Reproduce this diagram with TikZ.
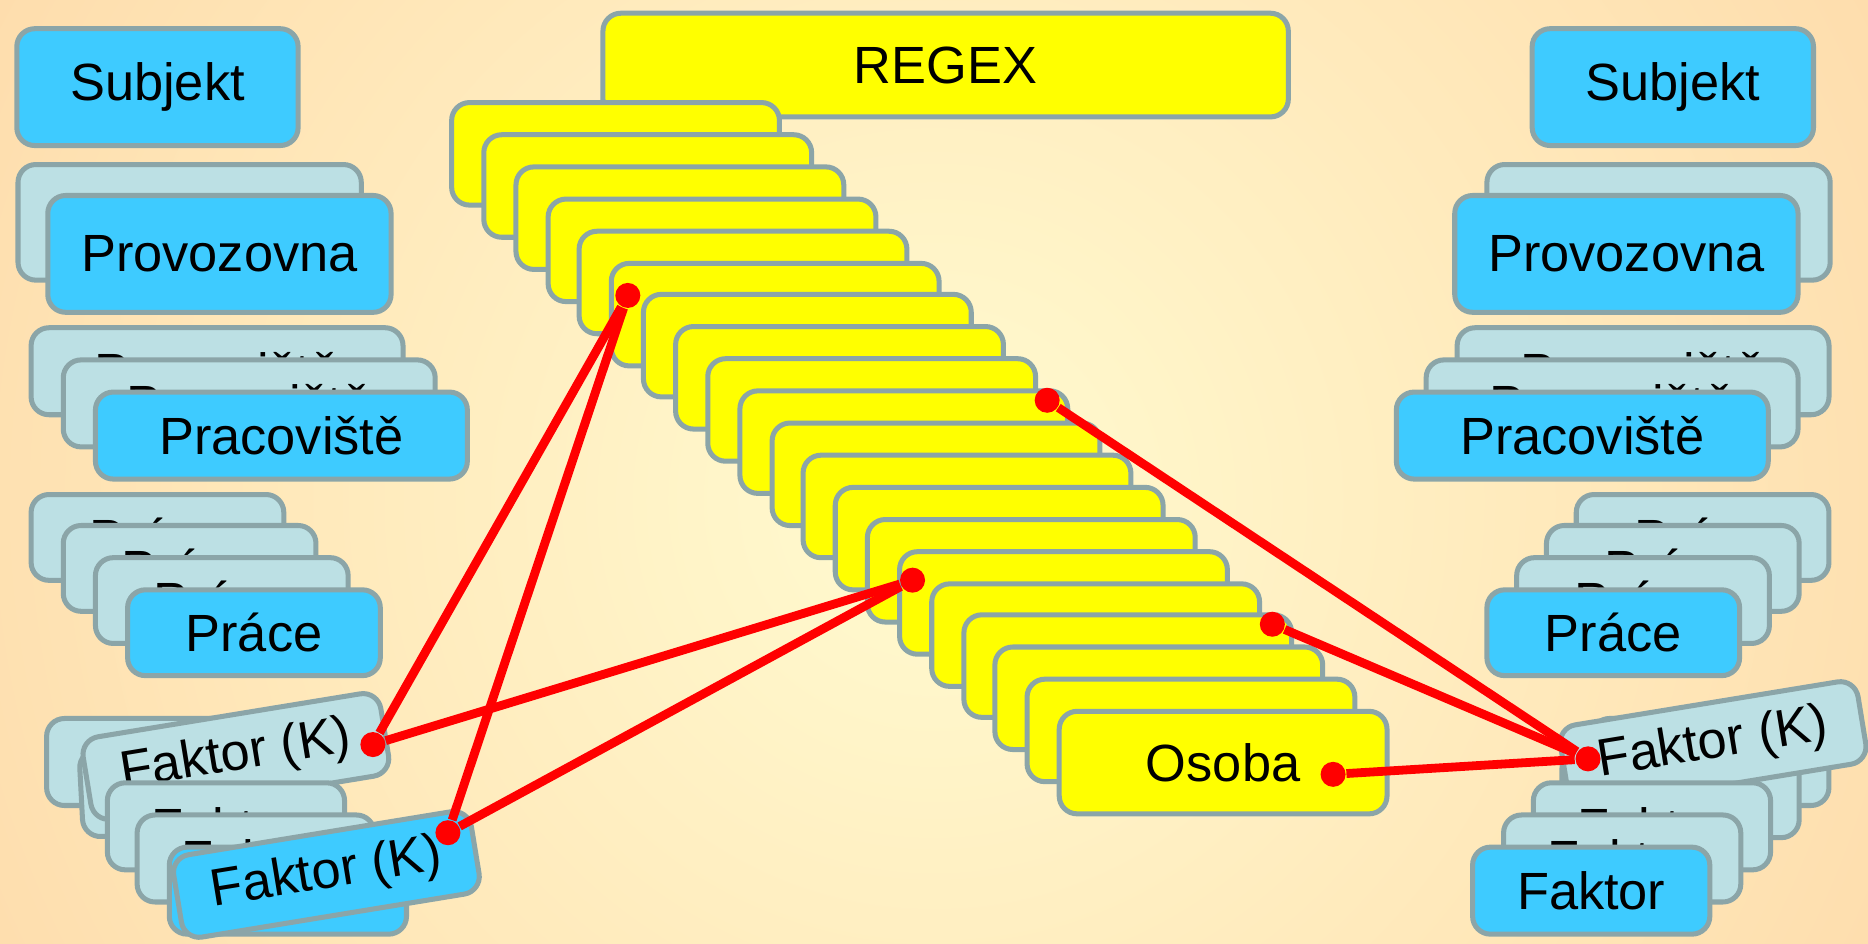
\documentclass[tikz,border=0pt]{standalone}
\usepackage{fontspec}
\setmainfont{Liberation Sans}
\usepackage{tikz}

\definecolor{edge}{RGB}{139,165,168}
\definecolor{boxblue}{RGB}{62,203,255}
\definecolor{boxlight}{RGB}{188,224,228}
\definecolor{boxyellow}{RGB}{255,255,0}
\definecolor{bgin}{RGB}{255,251,208}
\definecolor{bgout}{RGB}{254,204,153}
\newcommand{\boxfont}{\fontsize{12.5}{15}\selectfont}

\begin{document}
\begin{tikzpicture}[x=0.01cm, y=-0.01cm,
		mynode/.style={draw=edge, line width=1.2pt, rounded corners=0.15cm, font=\boxfont, inner sep=0pt, anchor=north west},
		bluenode/.style={mynode, fill=boxblue},
		lightnode/.style={mynode, fill=boxlight},
		yelnode/.style={mynode, fill=boxyellow, minimum width=2.75cm, minimum height=0.86cm},
		subj/.style={minimum width=2.36cm, minimum height=0.98cm},
		prov/.style={minimum width=2.88cm, minimum height=0.98cm},
		prac/.style={minimum width=3.12cm, minimum height=0.73cm},
		prace/.style={minimum width=2.12cm, minimum height=0.72cm},
		fakt/.style={minimum width=1.99cm, minimum height=0.73cm},
		faktk/.style={minimum width=2.53cm, minimum height=0.70cm, anchor=center, rotate=9.3},
		dot/.style={circle, fill=red, inner sep=0pt, minimum size=0.21cm},
		redline/.style={red, line width=2.1pt}
	]
	\useasboundingbox (0,0) rectangle (1568,792);
	\begin{scope}
		\clip (0,0) rectangle (1568,792);
		\shade[inner color=bgin, outer color=bgout] (-616,-980) rectangle (2184,1820);
	\end{scope}

	% left side
	\node[bluenode, subj] (subjL) at (12,22) {Subjekt};
	\node[lightnode, prov, minimum height=0.97cm] (provL0) at (13,136) {};
	\node[bluenode, prov] (provL) at (38,162) {Provozovna};

	\node[lightnode, prac] (pracL0) at (24,273) {Pracoviště};
	\node[lightnode, prac] (pracL1) at (51,300) {Pracoviště};
	\node[bluenode, prac] (pracL) at (78,327) {Pracoviště};

	\node[lightnode, prace] (praceL0) at (24,413) {Práce};
	\node[lightnode, prace] (praceL1) at (51,439) {Práce};
	\node[lightnode, prace] (praceL2) at (78,466) {Práce};
	\node[bluenode, prace] (praceL) at (105,493) {Práce};

	\node[lightnode, fakt] (faktL0) at (37,601) {};
	\node[lightnode, fakt, rotate=3] (faktL1) at (64,628) {};
	\node[lightnode, faktk] (kL1) at (198,635) {Faktor (K)};
	\node[lightnode, fakt] (faktL2) at (88,655) {Faktor};
	\node[lightnode, fakt] (faktL3) at (113,682) {Faktor};
	\node[bluenode, fakt] (faktL4) at (140,709) {};
	\node[bluenode, faktk] (kL2) at (274,734) {Faktor (K)};

	% right side
	\node[bluenode, subj] (subjR) at (1284,22) {Subjekt};
	\node[lightnode, prov, minimum height=0.97cm] (provR0) at (1246,136) {};
	\node[bluenode, prov] (provR) at (1219,162) {Provozovna};

	\node[lightnode, prac] (pracR0) at (1221,273) {Pracoviště};
	\node[lightnode, prac] (pracR1) at (1195,300) {Pracoviště};
	\node[bluenode, prac] (pracR) at (1170,327) {Pracoviště};

	\node[lightnode, prace] (praceR0) at (1321,413) {Práce};
	\node[lightnode, prace] (praceR1) at (1296,439) {Práce};
	\node[lightnode, prace] (praceR2) at (1271,466) {Práce};
	\node[bluenode, prace] (praceR) at (1246,493) {Práce};

	\node[lightnode, fakt] (faktR0) at (1334,601) {};
	\node[lightnode, fakt] (faktR1) at (1309,628) {};
	\node[lightnode, faktk] (kR) at (1438,625) {Faktor (K)};
	\node[lightnode, fakt] (faktR2) at (1285,655) {Faktor};
	\node[lightnode, fakt] (faktR3) at (1260,682) {Faktor};
	\node[bluenode, fakt] (faktR) at (1234,709) {Faktor};

	% middle stack
	\node[yelnode, minimum width=5.75cm, minimum height=0.87cm] (regex) at (504,9) {REGEX};
	\node[yelnode] (y0) at (377,84) {};
	\node[yelnode] (y1) at (404,111) {};
	\node[yelnode] (y2) at (431,138) {};
	\node[yelnode] (y3) at (458,165) {};
	\node[yelnode] (y4) at (484,192) {};
	\node[yelnode] (y5) at (511,219) {};
	\node[yelnode] (y6) at (538,245) {};
	\node[yelnode] (y7) at (565,272) {};
	\node[yelnode] (y8) at (592,299) {};
	\node[yelnode] (y9) at (619,326) {};
	\node[yelnode] (y10) at (646,353) {};
	\node[yelnode] (y11) at (672,380) {};
	\node[yelnode] (y12) at (699,407) {};
	\node[yelnode] (y13) at (726,434) {};
	\node[yelnode] (y14) at (753,461) {};
	\node[yelnode] (y15) at (780,488) {};
	\node[yelnode] (y16) at (807,514) {};
	\node[yelnode] (y17) at (833,541) {};
	\node[yelnode] (y18) at (860,568) {};
	\node[yelnode] (osoba) at (887,595) {Osoba};

	% links
	\node[dot] (d1) at (527,248) {};
	\node[dot] (d2) at (766,487) {};
	\node[dot] (d3) at (879,336) {};
	\node[dot] (d4) at (1068,524) {};
	\node[dot] (d5) at (1119,650) {};
	\node[dot] (dL1) at (313,625) {};
	\node[dot] (dL2) at (376,699) {};
	\node[dot] (dR) at (1333,637) {};

	\draw[redline] (d1) -- (dL1);
	\draw[redline] (d1) -- (dL2);
	\draw[redline] (d2) -- (dL1);
	\draw[redline] (d2) -- (dL2);
	\draw[redline] (d3) -- (dR);
	\draw[redline] (d4) -- (dR);
	\draw[redline] (d5) -- (dR);
\end{tikzpicture}
\end{document}
